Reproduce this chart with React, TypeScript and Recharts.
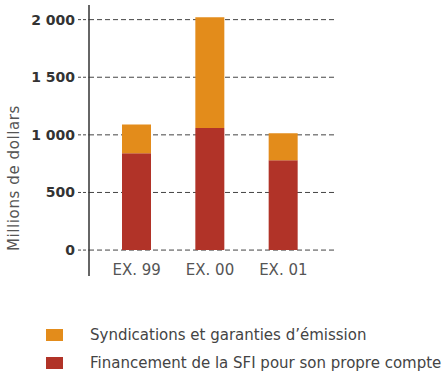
import { BarChart, Bar, XAxis, YAxis, CartesianGrid } from 'recharts';

const exercices = ['EX. 99', 'EX. 00', 'EX. 01'];
const financementPropre = [840, 1060, 780];
const syndications = [250, 960, 235];
const yTicks = [0, 500, 1000, 1500, 2000];

const ORANGE = '#E38C1B';
const RED = '#B13328';
const FONT = '"DejaVu Sans", sans-serif';

const data = exercices.map((name, i) => ({
  name,
  propre: financementPropre[i],
  syndications: syndications[i],
}));

const formatMillions = (v: number) =>
  v >= 1000 ? `${Math.floor(v / 1000)} ${String(v % 1000).padStart(3, '0')}` : String(v);

const XTick = ({ x, y, payload }: any) => (
  <text x={x} y={y - 9} textAnchor="middle" fill="#555" fontSize={15} fontFamily={FONT}>
    {payload.value}
  </text>
);

// rotated axis title, placed by hand at the left edge
const YTitle = () => (
  <text
    transform="translate(19,178) rotate(-90)"
    textAnchor="middle"
    fill="#555"
    fontSize={15}
    letterSpacing={0.6}
    fontFamily={FONT}
  >
    Millions de dollars
  </text>
);

const legendItems = [
  { color: ORANGE, label: 'Syndications et garanties d’émission' },
  { color: RED, label: 'Financement de la SFI pour son propre compte' },
];

const App = () => {
  return (
    <div style={{ position: 'absolute', left: 0, top: 0, width: 447, height: 375, background: '#fff' }}>
      <BarChart
        width={447}
        height={300}
        data={data}
        margin={{ top: 5, right: 111, left: 0, bottom: 0 }}
        barSize={29}
      >
        <CartesianGrid
          vertical={false}
          horizontalValues={yTicks}
          stroke="#444"
          strokeDasharray="5 3"
        />
        <XAxis
          dataKey="name"
          axisLine={false}
          tickLine={false}
          height={24}
          padding={{ left: 11, right: 16 }}
          tick={<XTick />}
          interval={0}
        />
        <YAxis
          width={89}
          domain={[-225, 2127]}
          ticks={yTicks}
          allowDataOverflow
          tickFormatter={formatMillions}
          tickSize={11}
          tickMargin={3}
          tickLine={{ stroke: '#444', strokeDasharray: '3 2' }}
          axisLine={{ stroke: '#333', strokeWidth: 1.5 }}
          tick={{ fill: '#333', fontSize: 14, fontWeight: 700, fontFamily: FONT }}
          label={{ content: <YTitle /> }}
        />
        <Bar dataKey="propre" stackId="a" fill={RED} isAnimationActive={false} />
        <Bar dataKey="syndications" stackId="a" fill={ORANGE} isAnimationActive={false} />
      </BarChart>
      <div style={{ position: 'absolute', left: 46, top: 321, fontFamily: FONT }}>
        {legendItems.map((item) => (
          <div key={item.label} style={{ display: 'flex', alignItems: 'center', height: 28 }}>
            <span style={{ display: 'inline-block', width: 17, height: 12, background: item.color }} />
            <span style={{ marginLeft: 27, fontSize: 15, color: '#444', whiteSpace: 'nowrap' }}>
              {item.label}
            </span>
          </div>
        ))}
      </div>
    </div>
  );
};

export default App;
